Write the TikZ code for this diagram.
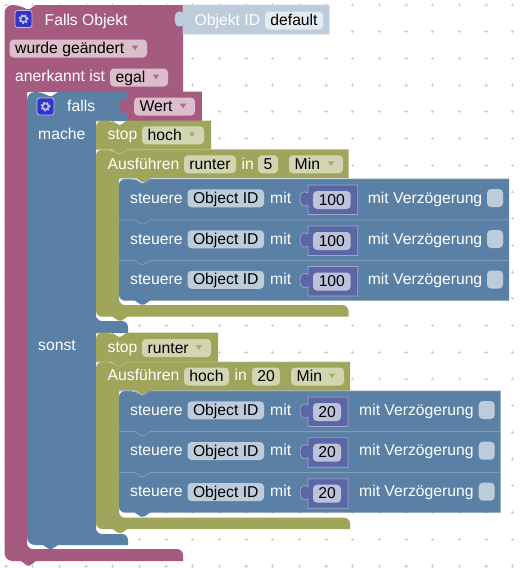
\documentclass[tikz,border=0pt]{standalone}
\usepackage{fontspec}
\setmainfont{Liberation Sans}
\definecolor{pinkb}{HTML}{A55B80}
\definecolor{blueb}{HTML}{5B80A5}
\definecolor{oliveb}{HTML}{9FA55B}
\definecolor{numb}{HTML}{5B67A5}
\definecolor{pinkf}{HTML}{DBBDCC}
\definecolor{bluef}{HTML}{BDCCDB}
\definecolor{olivef}{HTML}{D2D5B2}
\definecolor{numf}{HTML}{BDC2DB}
\definecolor{pinkl}{HTML}{C08CA6}
\definecolor{bluel}{HTML}{7F9CBA}
\definecolor{olivel}{HTML}{BABE88}
\definecolor{numl}{HTML}{A0A6CC}
\definecolor{idf}{HTML}{E4EBF1}
\definecolor{gridc}{HTML}{D0D0D0}
\definecolor{iconb}{HTML}{3333CC}
\newcommand\fs{\fontsize{15.7}{18}\selectfont}
\tikzset{
  lab/.style={anchor=base west,inner sep=0pt,text=white,font=\fs},
  ftx/.style={anchor=base west,inner sep=0pt,text=black,font=\fs},
  fcx/.style={anchor=base,inner sep=0pt,text=black,font=\fs},
  rc/.style={rounded corners=#1},
}
\newcommand\stmtblock[8]{%
  \fill[#5] (#1,{(#2+#4)/2}) [#7] -- (#1,#2) -- ({#1+16},#2) [sharp corners] -- ++(6,4) -- ++(3,0) -- ++(6,-4)
    -- (#3,#2) -- (#3,#4) -- ({#1+31},#4) -- ++(-6,4) -- ++(-3,0) -- ++(-6,-4) [#8] -- (#1,#4) -- (#1,{(#2+#4)/2}) -- cycle;
  \draw[#6,line width=.7pt] (#1,#2) -- ({#1+16},#2) -- ++(6,4) -- ++(3,0) -- ++(6,-4) -- (#3,#2);
}
\newcommand\valblock[6]{%
  \path[fill=#5,draw=#6,line width=.7pt] (#1,#2) -- (#3,#2) -- (#3,#4) -- (#1,#4) -- (#1,{#2+20}) .. controls ({#1-5},{#2+23}) and ({#1-8},{#2+20}) .. ({#1-8},{#2+14}) .. controls ({#1-8},{#2+8}) and ({#1-5},{#2+5}) .. (#1,{#2+8}) -- cycle;
}
\newcommand\fieldc[6]{%
  \fill[#5,rounded corners=4pt] (#2,{#4-9}) rectangle (#3,{#4+9});
  \node[fcx] (#1) at ({(#2+#3)/2},{#4+5}) {#6};
}
\newcommand\fieldd[7]{%
  \fill[#5,rounded corners=4pt] (#2,{#4-9}) rectangle (#3,{#4+9});
  \node[ftx] (#1) at ({#2+5.5},{#4+5}) {#6};
  \fill[#7!85!#5] ({#3-15.3},{#4-3}) -- ({#3-8.7},{#4-3}) -- ({#3-12},{#4+1.8}) -- cycle;
}
\newcommand\gearicon[3]{%
  \path[fill=iconb,draw=#3,line width=.8pt,rounded corners=2.5pt] ({#1-8.5},{#2-8.5}) rectangle ({#1+8.5},{#2+8.5});
  \draw[#3,line width=1.5pt] (#1,#2) circle (3pt);
  \draw[#3,line width=1.6pt,dash pattern=on 1.8pt off 1.75pt] (#1,#2) circle (4.2pt);
}
\newcommand\steuere[7]{%
  \pgfmathsetmacro\yfc{#2+19.3}
  \pgfmathsetmacro\ybl{#2+24.2}
  \pgfmathsetmacro\yvt{#2+6}
  \pgfmathsetmacro\yvb{#2+35.5}
  \pgfmathsetmacro\ynf{#2+21}
  \pgfmathsetmacro\xnf{#6-7}
  \pgfmathsetmacro\cbl{#4-22}
  \pgfmathsetmacro\cbr{#4-6}
  \pgfmathsetmacro\cbt{#2+10}
  \pgfmathsetmacro\cbb{#2+28}
  \fieldc{#1o}{187.5}{264}{\yfc}{bluef}{Object ID}
  \node[lab] (#1s) at (130,\ybl) {steuere};
  \node[lab] (#1m) at (270,\ybl) {mit};
  \valblock{308}{\yvt}{#6}{\yvb}{numb}{numl}
  \fieldc{#1n}{313}{\xnf}{\ynf}{numf}{#5}
  \node[lab] (#1v) at (#7,\ybl) {mit Verzögerung};
  \fill[bluef,rounded corners=4pt] (\cbl,\cbt) rectangle (\cbr,\cbb);
}
\begin{document}
\begin{tikzpicture}[x=1pt,y=-1pt]
\useasboundingbox (0,0) rectangle (520,568);
\fill[white] (0,0) rectangle (520,568);
\foreach \i in {0,...,19}{\foreach \j in {0,...,21}{
  \draw[gridc,line width=.6pt] ({6+26.67*\i-1.6},{4.8+26.72*\j}) -- ++(3.2,0) ({6+26.67*\i},{4.8+26.72*\j-1.6}) -- ++(0,3.2);
}}
\fill[pinkb] (4.5,60) [rc=8pt] -- (4.5,5) -- (20.5,5) [sharp corners] -- ++(6,4) -- ++(3,0) -- ++(6,-4) -- (183,5) -- (183,92)
  -- (27,92) [rc=6pt] -- (27,549) -- (183,549) [sharp corners] -- (183,561) -- (36,561) -- ++(-6,4.5) -- ++(-3,0) -- ++(-6,-4.5) [rc=8pt] -- (4.5,561) -- (4.5,60) -- cycle;
\valblock{183}{5}{329}{34}{bluef}{bluef}
\node[lab] (objid) at (194.5,25) {Objekt ID};
\fieldc{def}{265}{323}{20.5}{idf}{default}
\gearicon{23.5}{19}{numf}
\node[lab] (fo) at (44.5,25) {Falls Objekt};
\fieldd{wg}{9.5}{147}{48.5}{pinkf}{wurde geändert}{pinkb}
\node[lab] (ak) at (15,81) {anerkannt ist};
\fieldd{egal}{110}{168}{77.5}{pinkf}{egal}{pinkb}
\fill[blueb] (27,300) [rc=8pt] -- (27,92) -- (43,92) [sharp corners] -- ++(6,4) -- ++(3,0) -- ++(6,-4) -- (128,92) -- (128,121) -- (96,121)
  [rc=6pt] -- (96,321) -- (128,321) [sharp corners] -- (128,333) -- (96,333) [rc=6pt] -- (96,534) -- (128,534) [sharp corners] -- (128,545) -- (58,545) -- ++(-6,4) -- ++(-3,0) -- ++(-6,-4) [rc=8pt] -- (27,545) -- (27,300) -- cycle;
\gearicon{45.5}{106.5}{numf}
\node[lab] (falls) at (67,111) {falls};
\node[lab] (mache) at (38,139) {mache};
\node[lab] (sonst) at (38,350.7) {sonst};
\valblock{128}{92}{201.5}{121}{pinkb}{pinkb}
\fieldd{wert}{134}{195}{106.5}{pinkf}{Wert}{pinkb}
\stmtblock{96}{121}{211}{149.7}{oliveb}{oliveb}{rc=6pt}{sharp corners}
\node[lab] (st1) at (107.5,139.5) {stop};
\fieldd{ho1}{142}{204}{135.3}{olivef}{hoch}{oliveb}
\fill[oliveb] (96,200) [rc=6pt] -- (96,149.7) -- (112,149.7) [sharp corners] -- ++(6,4) -- ++(3,0) -- ++(6,-4) -- (348.5,149.7) -- (348.5,178) -- (151,178) -- ++(-6,4) -- ++(-3,0) -- ++(-6,-4) -- (119,178) [rc=6pt] -- (119,305) -- (348.5,305) [sharp corners] -- (348.5,316.7) -- (127.5,316.7) -- ++(-6,4) -- ++(-3,0) -- ++(-6,-4) [rc=6pt] -- (96,316.7) -- (96,200) -- cycle;
\draw[olivel,line width=.7pt] (96,149.7) -- (112,149.7) -- ++(6,4) -- ++(3,0) -- ++(6,-4) -- (348.5,149.7);
\node[lab] (au1) at (107.5,169) {Ausführen};
\fieldc{ru1}{184}{236}{164.3}{olivef}{runter}
\node[lab] (in1) at (241.5,169) {in};
\fieldc{fv1}{258}{278}{164.3}{olivef}{5}
\fieldd{mi1}{289}{343}{164.3}{olivef}{Min}{oliveb}
\stmtblock{119}{179}{509}{220}{blueb}{bluel}{rc=6pt}{sharp corners}
\steuere{a}{179}{220}{509}{100}{357.7}{367.7}
\stmtblock{119}{220}{509}{260.5}{blueb}{bluel}{sharp corners}{sharp corners}
\steuere{b}{220}{260.5}{509}{100}{357.7}{367.7}
\stmtblock{119}{260.5}{509}{300.7}{blueb}{bluel}{sharp corners}{rc=6pt}
\steuere{c}{260.5}{300.7}{509}{100}{357.7}{367.7}
\stmtblock{96}{333}{218}{362}{oliveb}{oliveb}{rc=6pt}{sharp corners}
\node[lab] (st2) at (107.5,352) {stop};
\fieldd{ru2}{142}{211}{348}{olivef}{runter}{oliveb}
\fill[oliveb] (96,420) [rc=6pt] -- (96,362) -- (112,362) [sharp corners] -- ++(6,4) -- ++(3,0) -- ++(6,-4) -- (350,362) -- (350,390.7) -- (151,390.7) -- ++(-6,4) -- ++(-3,0) -- ++(-6,-4) -- (119,390.7) [rc=6pt] -- (119,517.7) -- (350,517.7) [sharp corners] -- (350,529) -- (127.5,529) -- ++(-6,4) -- ++(-3,0) -- ++(-6,-4) [rc=6pt] -- (96,529) -- (96,420) -- cycle;
\draw[olivel,line width=.7pt] (96,362) -- (112,362) -- ++(6,4) -- ++(3,0) -- ++(6,-4) -- (350,362);
\node[lab] (au2) at (107.5,380.7) {Ausführen};
\fieldc{ho2}{184}{229}{376.5}{olivef}{hoch}
\node[lab] (in2) at (234.5,380.7) {in};
\fieldc{tw2}{252}{280}{376.5}{olivef}{20}
\fieldd{mi2}{291}{344}{376.5}{olivef}{Min}{oliveb}
\stmtblock{119}{391}{500.7}{431.7}{blueb}{bluel}{rc=6pt}{sharp corners}
\steuere{d}{391}{431.7}{500.7}{20}{348}{359}
\stmtblock{119}{431.7}{500.7}{472.7}{blueb}{bluel}{sharp corners}{sharp corners}
\steuere{e}{431.7}{472.7}{500.7}{20}{348}{359}
\stmtblock{119}{472.7}{500.7}{512.7}{blueb}{bluel}{sharp corners}{rc=6pt}
\steuere{f}{472.7}{512.7}{500.7}{20}{348}{359}
\end{tikzpicture}
\end{document}
